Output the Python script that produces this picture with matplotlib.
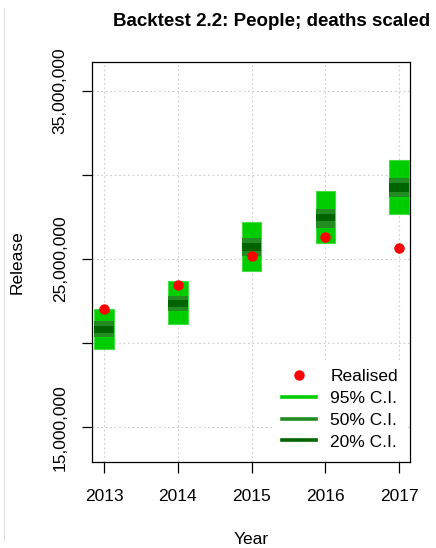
import matplotlib
matplotlib.use('Agg')
import matplotlib.pyplot as plt
from matplotlib.lines import Line2D
from matplotlib.patches import Rectangle

plt.rcParams['font.family'] = ['Liberation Sans', 'DejaVu Sans']

# backtest data (millions)
years = [2013, 2014, 2015, 2016, 2017]
realised = [22.04, 23.48, 25.18, 26.30, 25.65]
ci95_lo = [19.63, 21.15, 24.31, 25.95, 27.67]
ci95_hi = [22.04, 23.70, 27.19, 29.03, 30.87]
ci50_lo = [20.34, 21.92, 25.15, 26.85, 28.71]
ci50_hi = [21.29, 22.83, 26.22, 27.98, 29.83]
ci20_lo = [20.59, 22.16, 25.49, 27.23, 29.00]
ci20_hi = [21.05, 22.59, 25.97, 27.70, 29.54]

yticks = [15, 20, 25, 30, 35]
ytick_labels = ['15,000,000', '', '25,000,000', '', '35,000,000']

col95 = '#00CD00'
col50 = '#228B22'
col20 = '#006400'

fig = plt.figure(figsize=(4.36, 5.48), dpi=100)
ax = fig.add_axes([92 / 436, 1 - 461.7 / 548, (410 - 92) / 436, (461.7 - 61.7) / 548])

ax.set_xlim(2012.837, 2017.145)
ax.set_ylim(12.96, 36.72)

# grid
for yv in yticks:
    ax.axhline(yv, color='#cccccc', lw=0.8, ls=(0, (1.5, 2.5)), zorder=0)
for xv in years:
    ax.axvline(xv, color='#cccccc', lw=0.8, ls=(0, (1.5, 2.5)), zorder=0)

hw = 0.133
for i, yr in enumerate(years):
    ax.add_patch(Rectangle((yr - hw, ci95_lo[i]), 2 * hw, ci95_hi[i] - ci95_lo[i],
                           facecolor=col95, edgecolor='#44dd44', lw=0.8, zorder=2))
    ax.add_patch(Rectangle((yr - hw, ci50_lo[i]), 2 * hw, ci50_hi[i] - ci50_lo[i],
                           facecolor=col50, edgecolor='none', zorder=3))
    ax.add_patch(Rectangle((yr - hw, ci20_lo[i]), 2 * hw, ci20_hi[i] - ci20_lo[i],
                           facecolor=col20, edgecolor='none', zorder=4))

ax.plot(years, realised, 'o', color='red', ms=6.5, mec='red', zorder=5)

ax.set_xticks(years)
ax.set_xticklabels([str(y) for y in years], fontsize=12.5)
ax.set_yticks(yticks)
ax.set_yticklabels(ytick_labels, rotation=90, va='center', fontsize=12.5)
ax.tick_params(axis='x', length=8, width=0.9, pad=12)
ax.tick_params(axis='y', length=7.5, width=0.9, pad=10)
for s in ax.spines.values():
    s.set_linewidth(0.9)

handles = [Line2D([], [], marker='o', ls='none', color='red', ms=6.5),
           Line2D([], [], color=col95, lw=2.6),
           Line2D([], [], color=col50, lw=2.6),
           Line2D([], [], color=col20, lw=2.6)]
labels = ['Realised', '95% C.I.', '50% C.I.', '20% C.I.']
leg = ax.legend(handles, labels, loc='lower right', fontsize=12.5, frameon=True,
                fancybox=False, edgecolor='none', facecolor='white', framealpha=1,
                handlelength=2.0, handletextpad=0.8, labelspacing=0.38,
                borderpad=0.5, borderaxespad=0.2)
leg.set_zorder(6)

fig.text(272 / 436, 1 - 22 / 548, 'Backtest 2.2: People; deaths scaled',
         ha='center', va='center', fontsize=13.5, fontweight='bold')
fig.text(251 / 436, 1 - 544 / 548, 'Year', ha='center', va='baseline', fontsize=12.5)
fig.text(17 / 436, 1 - 262 / 548, 'Release', ha='center', va='center',
         rotation=90, fontsize=12.5)

fig.add_artist(Line2D([4 / 436, 4 / 436], [1 - 540 / 548, 1 - 8 / 548],
                      color='#dddddd', lw=0.8, transform=fig.transFigure))

fig.savefig('out.png', dpi=100)
